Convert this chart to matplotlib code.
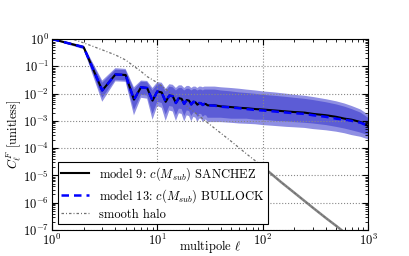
import matplotlib
matplotlib.use("Agg")
import matplotlib.pyplot as plt
import matplotlib.ticker as mticker
import numpy as np

plt.rcParams['font.family'] = 'serif'
plt.rcParams['font.serif'] = ['cmr10', 'DejaVu Serif']
plt.rcParams['mathtext.fontset'] = 'cm'
plt.rcParams['axes.formatter.use_mathtext'] = True
plt.rcParams['font.size'] = 9

# --- data ---
ell_low = list(range(1, 30))
c_low = [1.0, 0.5, 0.013, 0.05, 0.048, 0.006, 0.017, 0.016, 0.0055, 0.012,
         0.011, 0.005, 0.0085, 0.008, 0.0045, 0.0068, 0.0064, 0.0042, 0.0058, 0.0055,
         0.004, 0.005, 0.0048, 0.0039, 0.0045, 0.0044, 0.0038, 0.0042, 0.0041]
up9_low = [1.03, 0.58, 0.03, 0.085, 0.08, 0.017, 0.03, 0.029, 0.016, 0.026,
           0.025, 0.015, 0.022, 0.021, 0.016, 0.02, 0.02, 0.016, 0.019, 0.019,
           0.016, 0.018, 0.018, 0.016, 0.018, 0.018, 0.017, 0.018, 0.018]
up13_low = [1.02, 0.55, 0.025, 0.075, 0.072, 0.014, 0.027, 0.026, 0.013, 0.022,
            0.021, 0.012, 0.018, 0.017, 0.013, 0.016, 0.016, 0.013, 0.015, 0.015,
            0.013, 0.0145, 0.0145, 0.013, 0.014, 0.014, 0.013, 0.014, 0.014]
lo9_low = [0.97, 0.45, 0.007, 0.032, 0.03, 0.0025, 0.009, 0.0085, 0.0018, 0.005,
           0.0045, 0.0017, 0.0035, 0.0033, 0.0016, 0.0028, 0.0027, 0.0015, 0.0024, 0.0023,
           0.0015, 0.002, 0.002, 0.0014, 0.0018, 0.0018, 0.0014, 0.0016, 0.0016]
lo13_low = [0.95, 0.42, 0.005, 0.028, 0.027, 0.0016, 0.007, 0.0065, 0.0011, 0.0035,
            0.003, 0.001, 0.0024, 0.0022, 0.001, 0.0019, 0.0018, 0.00095, 0.0016, 0.0015,
            0.00095, 0.0014, 0.0013, 0.0009, 0.0012, 0.0012, 0.0009, 0.0011, 0.0011]

ell_high = [30, 35, 40, 50, 60, 70, 85, 100, 130, 170, 200, 250, 300, 400, 500, 600, 700, 850, 1000]
c9_high = [0.0037, 0.0037, 0.0034, 0.0032, 0.003, 0.0029, 0.0027, 0.0026, 0.0024, 0.0022,
           0.0021, 0.002, 0.0018, 0.0016, 0.0014, 0.0012, 0.0011, 0.0009, 0.00065]
c13_high = [0.0037, 0.0036, 0.0033, 0.0031, 0.0029, 0.0027, 0.0025, 0.0024, 0.0022, 0.002,
            0.0019, 0.0018, 0.0016, 0.0014, 0.0012, 0.0011, 0.001, 0.00085, 0.00065]
up9_high = [0.018, 0.018, 0.017, 0.016, 0.015, 0.014, 0.013, 0.012, 0.011, 0.0098,
            0.009, 0.0083, 0.0075, 0.0062, 0.0052, 0.0043, 0.0035, 0.0026, 0.0017]
up13_high = [0.014, 0.014, 0.013, 0.012, 0.011, 0.0105, 0.0098, 0.009, 0.0083, 0.0075,
             0.007, 0.0064, 0.0058, 0.0048, 0.004, 0.0033, 0.0027, 0.002, 0.0013]
lo9_high = [0.0013, 0.0013, 0.0013, 0.0012, 0.0012, 0.0012, 0.0011, 0.0011, 0.001, 0.00095,
            0.0009, 0.00085, 0.0008, 0.0007, 0.0006, 0.00052, 0.00045, 0.00037, 0.0003]
lo13_high = [0.0009, 0.0009, 0.0009, 0.00085, 0.0008, 0.00078, 0.00075, 0.0007, 0.00065, 0.0006,
             0.00058, 0.00055, 0.0005, 0.00045, 0.0004, 0.00035, 0.0003, 0.00026, 0.00021]

ell_halo = [1, 1.5, 2, 3, 4, 5, 6, 7, 8, 10, 15, 20, 30, 50, 70, 100, 150, 200,
            300, 400, 500, 600, 700, 1000]
c_halo = [1.3, 1.05, 0.72, 0.4, 0.26, 0.17, 0.1, 0.065, 0.042, 0.025, 0.0075, 0.003,
          0.00085, 0.00018, 6.2e-5, 2.1e-5, 5.6e-6, 2.3e-6, 6.5e-7, 2.7e-7, 1.4e-7,
          8e-8, 5e-8, 1.6e-8]

ell = np.array(ell_low + ell_high)
c9 = np.array(c_low + c9_high)
c13 = np.array(c_low + c13_high)
up9 = np.array(up9_low + up9_high)
lo9 = np.array(lo9_low + lo9_high)
up13 = np.array(up13_low + up13_high)
lo13 = np.array(lo13_low + lo13_high)

fig = plt.figure(figsize=(4.09, 2.56), dpi=100)
ax = fig.add_axes([0.127, 0.1016, 0.773, 0.7461])

band_col = '#3333cc'
ax.fill_between(ell, lo9, up9, facecolor=band_col, alpha=0.55, lw=0)
ax.fill_between(ell, lo13, up13, facecolor=band_col, alpha=0.55, lw=0)

halo_ls = (0, (2, 1.6, 0.8, 1.6))
ax.plot(ell_halo, c_halo, color='#707070', ls=halo_ls, lw=0.9, label='smooth halo')
hx = [l for l in ell_halo if l >= 100]
hy = [c for l, c in zip(ell_halo, c_halo) if l >= 100]
ax.plot(hx, hy, color='#707070', ls='-', lw=1.8, alpha=0.85)

ax.plot(ell, c9, color='black', lw=1.5, label=r'model 9: $c(M_{sub})$ SANCHEZ')
ax.plot(ell, c13, color='blue', lw=1.8, ls='--', dashes=(3, 2),
        label=r'model 13: $c(M_{sub})$ BULLOCK')

ax.set_xscale('log')
ax.set_yscale('log')
ax.set_xlim(1, 1000)
ax.set_ylim(1e-7, 1)
ax.yaxis.set_major_locator(mticker.LogLocator(base=10, numticks=20))
ax.yaxis.set_minor_locator(mticker.LogLocator(base=10, subs=np.arange(2, 10), numticks=20))
ax.yaxis.set_minor_formatter(mticker.NullFormatter())
ax.xaxis.set_minor_formatter(mticker.NullFormatter())
ax.set_xlabel(r'multipole $\ell$')
ax.xaxis.set_label_coords(0.5, -0.085, transform=ax.transAxes)
ax.xaxis.label.set_va('center')
ax.set_ylabel(r'$C_\ell^F$ [unitless]', labelpad=0)
ax.grid(True, which='major', ls=':', color='#888888', lw=0.8)
ax.tick_params(which='both', direction='in', top=True, right=True, pad=2)
ax.tick_params(which='major', length=4)
ax.tick_params(which='minor', length=2)

handles, labels = ax.get_legend_handles_labels()
order = [1, 2, 0]
leg = ax.legend([handles[i] for i in order], [labels[i] for i in order],
                loc='lower left', fancybox=False, framealpha=1,
                edgecolor='black', borderaxespad=0.45, borderpad=0.3,
                handlelength=2.2, labelspacing=0.3, fontsize=9)
leg.get_frame().set_linewidth(0.8)

fig.savefig('out.png', dpi=100)
